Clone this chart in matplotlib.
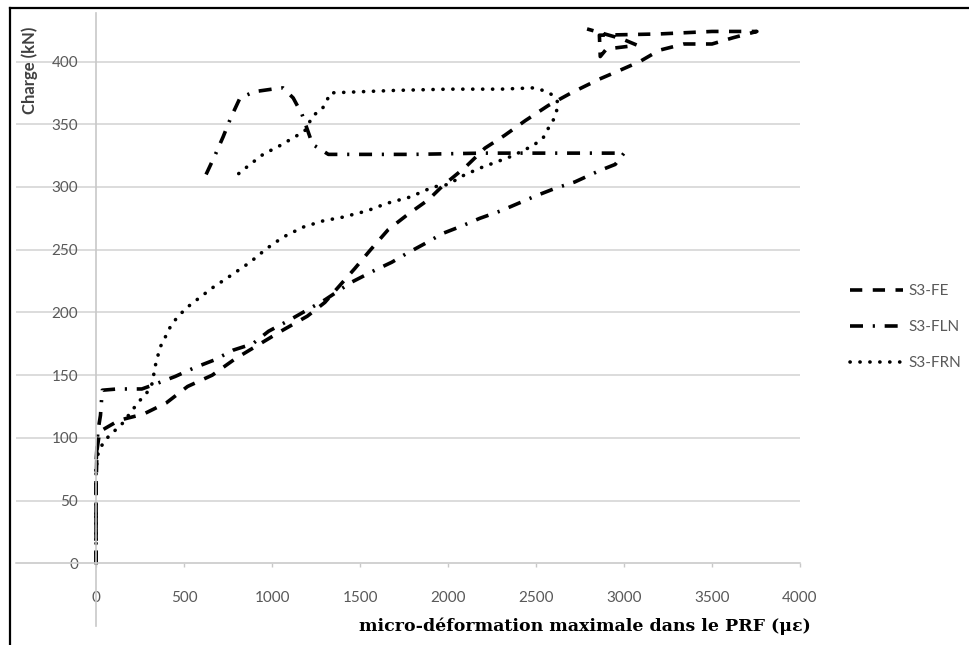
import matplotlib
matplotlib.use('Agg')
import matplotlib.pyplot as plt
from matplotlib.lines import Line2D

# Load / strain readings
fe_x = [0, 0, 0, 5, 20, 130, 270, 400, 520, 660, 790, 920, 1050, 1200, 1300, 1470, 1560, 1660, 1770,
        1890, 1970, 2100, 2210, 2320, 2440, 2570, 2700, 2860, 2960, 3090, 3200, 3340, 3500, 3620, 3755,
        3500, 3200, 2860, 2865, 2900, 3075, 2990, 2790]
fe_y = [0, 30, 60, 90, 105, 114, 119, 128, 141, 150, 163, 174, 185, 197, 208, 235, 250, 266, 278,
        290, 301, 316, 331, 341, 353, 365, 375, 386, 392, 400, 409, 414, 414, 419, 424,
        424, 422, 421, 404, 410, 413, 418, 426]

fln_x = [0, 0, 0, 10, 25, 35, 120, 260, 320, 450, 560, 670, 780, 890, 980, 1100, 1300, 1450, 1575,
         1680, 1765, 1870, 1970, 2080, 2180, 2300, 2400, 2500, 2610, 2720, 2860, 2950, 3000, 2600,
         2200, 1800, 1320, 1230, 1170, 1120, 1062, 1000, 900, 818, 765, 722, 675, 625]
fln_y = [0, 40, 80, 105, 118, 138, 139, 139, 142, 149, 156, 162, 170, 175, 185, 194, 210, 224, 233,
         240, 247, 255, 263, 269, 275, 281, 287, 293, 299, 304, 313, 318, 327, 327,
         327, 326, 326, 334, 358, 371, 379, 378, 376, 371, 355, 340, 325, 310]

frn_x = [0, 0, 0, 12, 40, 70, 108, 153, 205, 250, 307, 325, 330, 345, 363, 392, 420, 460, 517, 590,
         665, 761, 875, 970, 1062, 1176, 1290, 1403, 1540, 1653, 1784, 1915, 2000, 2085, 2180, 2295,
         2370, 2426, 2483, 2540, 2562, 2597, 2630, 2600, 2540, 2483, 2300, 2000, 1700, 1330, 1312,
         1284, 1233, 1187, 1142, 1045, 949, 875, 778]
frn_y = [0, 40, 75, 88, 96, 101, 106, 112, 122, 130, 139, 146, 154, 162, 172, 180, 188, 196, 204, 212,
         220, 229, 240, 251, 260, 268, 273, 276, 281, 287, 292, 300, 302, 309, 315, 321,
         325, 329, 333, 339, 345, 353, 366, 373, 377, 379, 378, 378, 377, 375, 369,
         362, 357, 345, 341, 333, 326, 318, 307]

labels = ['S3-FE', 'S3-FLN', 'S3-FRN']
x_ticks = [0, 500, 1000, 1500, 2000, 2500, 3000, 3500, 4000]
y_ticks = [0, 50, 100, 150, 200, 250, 300, 350, 400]

W, H = 969, 645
fig = plt.figure(figsize=(W / 100, H / 100), dpi=100)
ax = fig.add_axes([16 / W, 1 - 625.7 / H, (800 - 16) / W, (625.7 - 13) / H])

lw = 2.6
ax.plot(fe_x, fe_y, color='black', lw=lw, linestyle=(0, (3.4, 2.9)), label=labels[0])
ax.plot(fln_x, fln_y, color='black', lw=lw, linestyle=(0, (3.6, 2.7, 0.6, 2.7)), label=labels[1])
ax.plot(frn_x, frn_y, color='black', lw=lw, linestyle=(0, (0.05, 2.7)),
        dash_capstyle='round', label=labels[2])

ax.set_xlim(-455, 4000)
ax.set_ylim(-49.7, 438.7)

# Excel-like axes crossing at zero
for side in ['top', 'right']:
    ax.spines[side].set_visible(False)
ax.spines['left'].set_position(('data', 0))
ax.spines['bottom'].set_position(('data', 0))
ax.spines['left'].set_color('#c8c8c8')
ax.spines['bottom'].set_color('#d0d0d0')
ax.spines['left'].set_linewidth(1.2)
ax.spines['bottom'].set_linewidth(1.2)

ax.set_xticks(x_ticks)
ax.set_yticks(y_ticks)
ax.tick_params(axis='x', direction='out', length=3, width=1, color='#c8c8c8', pad=17,
               labelsize=11, labelcolor='#595959')
ax.tick_params(axis='y', length=0, pad=13, labelsize=11, labelcolor='#595959')
for t in ax.get_xticklabels() + ax.get_yticklabels():
    t.set_fontfamily('Lato')

ax.grid(axis='y', color='#d9d9d9', lw=1.3)
ax.set_axisbelow(True)

fig.text(30 / W, 1 - 70 / H, 'Charge (kN)', rotation=90, ha='center', va='center',
         fontsize=12, fontweight='bold', color='#404040', family='Lato')
fig.text(585 / W, 1 - 626 / H, 'micro-déformation maximale dans le PRF (με)', ha='center',
         va='center', fontsize=12.5, fontweight='bold', color='black', family='DejaVu Serif')

leg = fig.legend(loc='upper left', bbox_to_anchor=(850 / W, 1 - 284 / H), frameon=False,
                 handlelength=3.5, handletextpad=0.3, labelspacing=1.45, borderpad=0,
                 borderaxespad=0, prop={'family': 'Lato', 'size': 11})
for t in leg.get_texts():
    t.set_color('#595959')

# frame lines of the original picture (top and left only)
fig.add_artist(Line2D([10 / W, 1], [1 - 8 / H, 1 - 8 / H], color='black', lw=1.6))
fig.add_artist(Line2D([10 / W, 10 / W], [0, 1 - 8 / H], color='black', lw=1.6))

fig.savefig('out.png', dpi=100)
